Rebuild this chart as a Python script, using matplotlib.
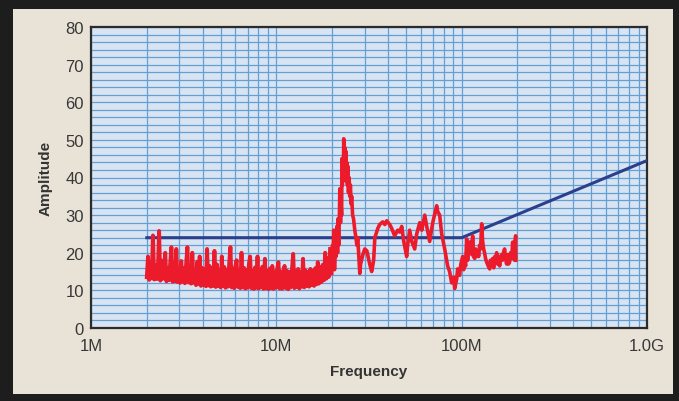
import numpy as np
import matplotlib.pyplot as plt
from matplotlib.patches import Rectangle
from matplotlib.ticker import FixedLocator, LogLocator, NullFormatter, MultipleLocator

# spectrum sweep, low band (2M - 19.5M), amplitudes
noise_amp = [
    13.5, 19.0, 12.8, 17.5, 13.2, 24.6, 12.9, 16.8, 13.0, 15.5,
    25.8, 12.6, 17.9, 13.1, 16.2, 20.0, 12.4, 15.8, 12.7, 17.2,
    21.5, 12.3, 16.4, 12.5, 21.0, 12.2, 15.6, 12.0, 17.8, 12.3,
    15.9, 11.9, 17.1, 21.5, 12.1, 16.3, 11.8, 20.0, 12.0, 15.4,
    11.4, 17.6, 11.7, 19.0, 11.2, 16.0, 11.4, 15.6, 11.1, 21.0,
    11.3, 16.5, 11.0, 15.8, 11.2, 20.5, 10.9, 16.9, 11.1, 15.5,
    10.8, 19.0, 11.1, 16.2, 10.7, 15.4, 11.0, 17.3, 21.5, 10.8,
    15.8, 10.6, 16.4, 18.0, 10.9, 15.3, 10.6, 20.0, 10.8, 16.0,
    10.5, 15.4, 10.7, 17.0, 19.0, 10.6, 15.2, 10.4, 16.1, 10.7,
    19.0, 10.5, 15.2, 10.8, 16.3, 10.4, 18.4, 10.6, 15.1, 10.3,
    15.8, 10.6, 16.5, 10.4, 15.0, 10.7, 15.6, 17.5, 10.5, 15.0,
    10.4, 14.9, 16.5, 10.6, 15.2, 10.3, 14.9, 10.8, 15.5, 19.7,
    10.6, 15.0, 10.9, 15.7, 10.5, 14.9, 11.0, 18.4, 10.8, 15.3,
    11.2, 14.8, 11.0, 15.7, 11.4, 15.1, 11.2, 15.9, 11.6, 17.5,
    11.8, 16.2, 12.2, 16.8, 12.7, 20.0, 13.1, 18.5, 13.6, 21.0,
]
noise_freq = np.geomspace(2.0, 19.5, len(noise_amp))  # MHz sweep grid

# upper band (MHz, dB) read point by point
band_freq = [19.9, 20.1, 20.2, 20.4, 20.6, 20.9, 21.0, 21.2, 21.4, 21.5,
             21.7, 21.9, 22.0, 22.2, 22.3, 22.5, 22.6, 22.7, 22.8, 23.0,
             23.1, 23.2, 23.4, 23.5, 23.7, 23.8, 24.0, 24.2, 24.3, 24.5,
             24.7, 24.9, 25.1, 25.3, 25.5, 25.8, 26.1, 26.5, 26.9, 27.2,
             27.5,
             28.2, 28.5, 29.3, 30.0, 30.8, 31.9, 32.7, 33.5, 34.0, 35.3,
             36.1, 37.5, 38.5, 39.4, 40.9, 41.9, 43.5, 45.2, 46.3, 47.5,
             48.7, 50.5, 51.1, 52.4, 53.8, 55.8, 57.2, 59.4, 60.9, 63.2,
             64.8, 67.2, 69.8, 73.3, 74.2, 76.1, 78.0, 81.0, 84.0, 86.1,
             88.3, 90.6, 91.7, 94.0, 95.1,
             97.5, 99.0, 101.3, 102.5, 103.8, 105.0, 106.4, 107.7, 109.0, 110.4,
             112.0, 113.5, 114.6, 116.0, 117.5, 119.0, 120.5, 122.0, 123.5, 125.0,
             126.5, 128.2, 129.8, 131.4, 132.9, 134.5, 136.4, 139.0, 141.6, 143.0,
             145.1, 147.0, 148.8, 151.0, 153.0, 154.4, 156.3, 158.0, 160.3, 162.0,
             164.3, 166.0, 168.0, 170.5, 172.5, 174.8, 177.0, 179.0, 181.4, 183.5,
             186.1, 188.4, 190.0, 191.5, 193.0, 194.5, 195.5, 196.0]
band_amp = [14.5, 22.0, 17.0, 26.0, 15.5, 25.0, 19.0, 27.0, 20.0, 29.0,
            22.0, 30.0, 37.0, 28.0, 34.0, 30.0, 45.0, 38.0, 42.0, 40.0,
            50.3, 42.0, 48.0, 41.0, 47.0, 39.0, 44.0, 38.0, 43.0, 36.0,
            40.0, 35.0, 38.0, 33.0, 35.0, 30.0, 29.0, 26.0, 24.0, 22.0,
            24.0,
            14.5, 17.0, 19.5, 21.0, 20.5, 17.0, 15.0, 18.0, 24.0, 26.5,
            27.5, 28.2, 27.5, 28.5, 27.5, 26.5, 24.5, 26.0, 25.5, 27.0,
            23.0, 19.0, 22.0, 26.0, 23.0, 21.0, 25.0, 28.0, 26.0, 30.0,
            27.0, 23.0, 28.0, 32.5, 31.0, 30.0, 25.0, 21.0, 16.5, 15.0,
            12.0, 13.5, 10.5, 13.0, 15.7,
            14.0, 17.0, 19.0, 15.5, 18.0, 16.5, 23.7, 18.0, 22.0, 20.0,
            23.0, 19.5, 24.5, 19.0, 18.5, 21.0, 19.0, 20.5, 19.0, 22.0,
            21.0, 27.7, 23.0, 21.0, 20.0, 18.5, 17.5, 16.5, 15.7, 18.0,
            17.0, 18.5, 16.0, 19.0, 18.0, 20.0, 17.0, 19.0, 16.5, 18.5,
            19.5, 18.0, 20.0, 21.0, 18.5, 17.0, 19.5, 17.0, 17.5, 20.0,
            18.5, 22.8, 19.0, 21.0, 18.0, 23.0, 24.5, 18.0]

# limit line
limit_freq = [2.0, 100.0, 1000.0]
limit_amp = [24.0, 24.0, 44.5]

x_ticks = [1, 10, 100, 1000]
x_labels = ['1M', '10M', '100M', '1.0G']
y_ticks = list(range(0, 81, 10))

font = ['Liberation Sans', 'DejaVu Sans']

fig = plt.figure(figsize=(6.79, 4.02), dpi=100, facecolor='#1d1d1d')
fig.add_artist(Rectangle((13 / 679, 7 / 402), 660 / 679, 385 / 402,
                         transform=fig.transFigure, facecolor='#e9e2d7',
                         edgecolor='none', zorder=-5))

ax = fig.add_axes([91 / 679, 73 / 402, 556 / 679, 301 / 402])
ax.set_facecolor('#d9e4f3')
ax.set_xscale('log')
ax.set_xlim(1, 1000)
ax.set_ylim(0, 80)

ax.xaxis.set_major_locator(FixedLocator(x_ticks))
ax.set_xticklabels(x_labels)
ax.xaxis.set_minor_locator(LogLocator(base=10, subs=np.arange(2, 10)))
ax.xaxis.set_minor_formatter(NullFormatter())
ax.set_yticks(y_ticks)
ax.yaxis.set_minor_locator(MultipleLocator(2))

ax.grid(True, which='both', color='#62a0d4', linewidth=0.9)
ax.set_axisbelow(True)
ax.tick_params(which='both', length=0, labelsize=12, labelcolor='#383838')
ax.tick_params(axis='y', pad=5)
ax.tick_params(axis='x', pad=7)
for lab in ax.get_xticklabels() + ax.get_yticklabels():
    lab.set_family(font)

for s in ax.spines.values():
    s.set_color('#2b2b2b')
    s.set_linewidth(1.6)

ax.plot(limit_freq, limit_amp, color='#2b3f8c', linewidth=2.2, zorder=3)
ax.plot(noise_freq, noise_amp, color='#ec1b2c', linewidth=2.8, zorder=4)
ax.plot(band_freq, band_amp, color='#ec1b2c', linewidth=2.6, zorder=4)

ax.set_xlabel('Frequency', family=font, fontsize=11, fontweight='bold',
              color='#333333', labelpad=8)
ax.set_ylabel('Amplitude', family=font, fontsize=11, fontweight='bold',
              color='#333333', labelpad=9)

fig.savefig('out.png', dpi=100, facecolor=fig.get_facecolor())
